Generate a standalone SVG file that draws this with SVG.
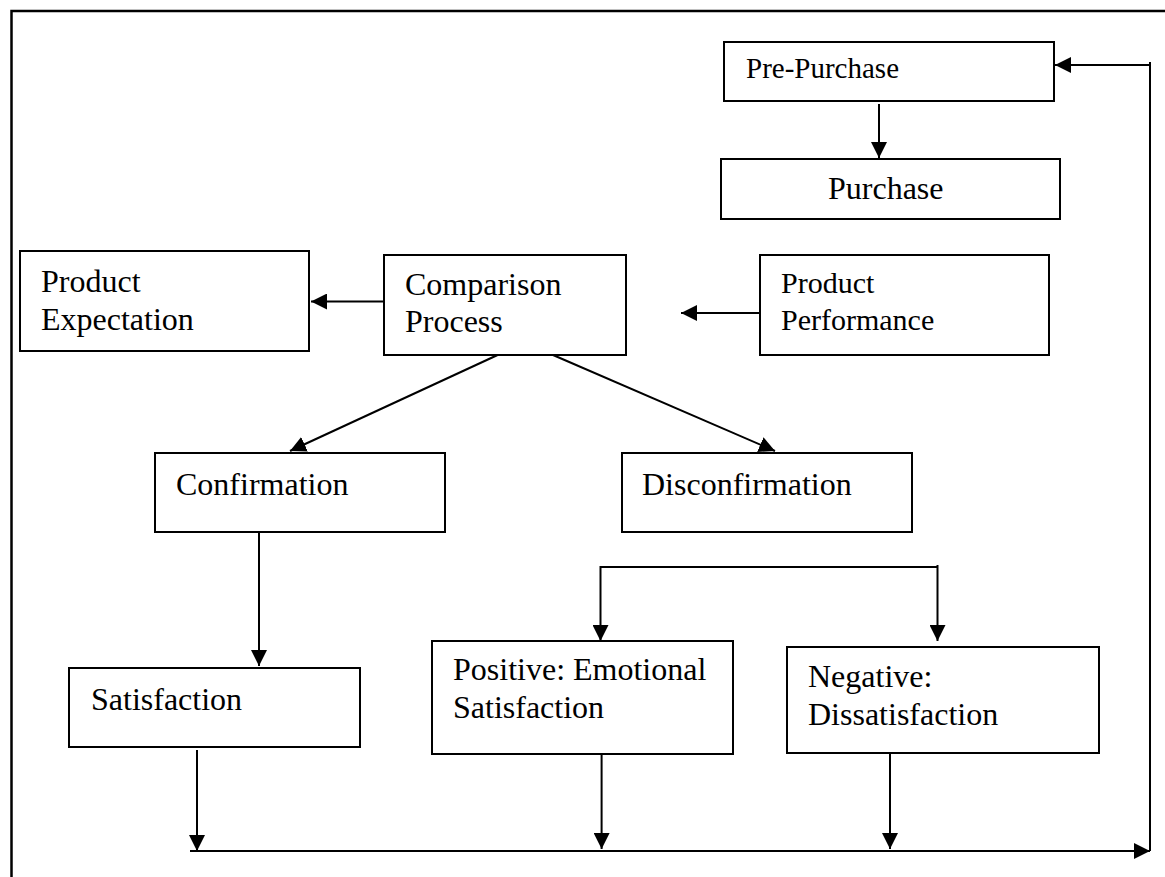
<svg xmlns="http://www.w3.org/2000/svg" width="1165" height="877" viewBox="0 0 1165 877">
<style>
.box{fill:#fff;stroke:#000;stroke-width:2}
.t{font-family:"Liberation Serif","Times New Roman",serif;font-size:32px;fill:#000}
.s{font-size:29px}
.m{font-size:30px}
.c{fill:none;stroke:#000;stroke-width:2}
</style>
<defs>
<marker id="ah" markerUnits="userSpaceOnUse" markerWidth="16" markerHeight="16" refX="16" refY="8" orient="auto" viewBox="0 0 16 16">
<path d="M0,0 L16,8 L0,16 z" fill="#000"/>
</marker>
</defs>
<rect width="1165" height="877" fill="#fff"/>
<path d="M11.5,877 V11 H1165" fill="none" stroke="#000" stroke-width="2.5"/>
<g id="connectors">
<path class="c" d="M879,104 V158" marker-end="url(#ah)"/>
<path class="c" d="M1150,851 V62"/>
<path class="c" d="M1150,65 H1055" marker-end="url(#ah)"/>
<path class="c" d="M384,301.5 H311" marker-end="url(#ah)"/>
<path class="c" d="M760,313 H681" marker-end="url(#ah)"/>
<path class="c" d="M497.6,355 L290,451" marker-end="url(#ah)"/>
<path class="c" d="M553,355 L775,451" marker-end="url(#ah)"/>
<path class="c" d="M259,532 V666" marker-end="url(#ah)"/>
<path class="c" d="M600.5,567 H937.5"/>
<path class="c" d="M600.5,566 V641" marker-end="url(#ah)"/>
<path class="c" d="M937.5,565 V641" marker-end="url(#ah)"/>
<path class="c" d="M197,750 V851" marker-end="url(#ah)"/>
<path class="c" d="M601.6,755 V849" marker-end="url(#ah)"/>
<path class="c" d="M890,753 V849" marker-end="url(#ah)"/>
<path class="c" d="M190,851 H1150" marker-end="url(#ah)"/>
</g>
<g id="pre-purchase"><rect class="box" x="724" y="42" width="330" height="59"/><text class="t s" x="746" y="78">Pre-Purchase</text></g>
<g id="purchase"><rect class="box" x="721" y="159" width="339" height="60"/><text class="t" x="828" y="199">Purchase</text></g>
<g id="product-expectation"><rect class="box" x="20" y="251" width="289" height="100"/><text class="t" x="41" y="292">Product</text><text class="t" x="41" y="330">Expectation</text></g>
<g id="comparison-process"><rect class="box" x="384" y="255" width="242" height="100"/><text class="t" x="405" y="295">Comparison</text><text class="t" x="405" y="332">Process</text></g>
<g id="product-performance"><rect class="box" x="760" y="255" width="289" height="100"/><text class="t m" x="781" y="293">Product</text><text class="t m" x="781" y="330">Performance</text></g>
<g id="confirmation"><rect class="box" x="155" y="453" width="290" height="79"/><text class="t" x="176" y="495">Confirmation</text></g>
<g id="disconfirmation"><rect class="box" x="622" y="453" width="290" height="79"/><text class="t" x="642" y="495">Disconfirmation</text></g>
<g id="satisfaction"><rect class="box" x="69" y="668" width="291" height="79"/><text class="t" x="91" y="710">Satisfaction</text></g>
<g id="positive"><rect class="box" x="432" y="641" width="301" height="113"/><text class="t" x="453" y="680">Positive: Emotional</text><text class="t" x="453" y="718">Satisfaction</text></g>
<g id="negative"><rect class="box" x="787" y="647" width="312" height="106"/><text class="t" x="808" y="687">Negative:</text><text class="t" x="808" y="725">Dissatisfaction</text></g>
</svg>
